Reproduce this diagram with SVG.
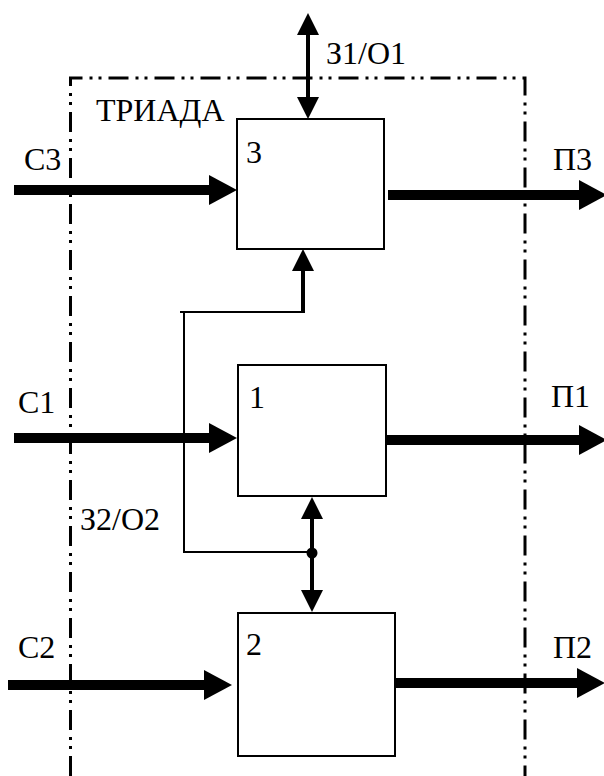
<svg xmlns="http://www.w3.org/2000/svg" width="604" height="776" viewBox="0 0 604 776">
  <style>
    .lbl { font-family: "Liberation Serif", "Times New Roman", serif; font-size: 32px; fill: #000; }
    .box { fill: #fff; stroke: #000; stroke-width: 2; }
    .frame { fill: none; stroke: #000; stroke-width: 3; stroke-dasharray: 20 7 3 6 3 7; }
    .flow { fill: none; stroke: #000; stroke-width: 10; marker-end: url(#bigHead); }
    .link { fill: none; stroke: #000; stroke-width: 4; }
    .thin { fill: none; stroke: #000; stroke-width: 2; }
  </style>
  <defs>
    <marker id="bigHead" markerUnits="userSpaceOnUse" viewBox="0 0 28 30" markerWidth="28" markerHeight="30" refX="1" refY="15" orient="auto">
      <path d="M0,0 L28,15 L0,30 Z" fill="#000"/>
    </marker>
    <marker id="smallHead" markerUnits="userSpaceOnUse" viewBox="0 0 22 22" markerWidth="22" markerHeight="22" refX="1" refY="11" orient="auto-start-reverse">
      <path d="M0,0 L22,11 L0,22 Z" fill="#000"/>
    </marker>
  </defs>

  <!-- triad boundary (dash-dot-dot) -->
  <path class="frame" d="M70.5,776 V78 H525 V776"/>
  <text class="lbl" x="96" y="121">ТРИАДА</text>

  <!-- nodes -->
  <g id="node3">
    <rect class="box" x="237" y="119" width="147" height="130"/>
    <text class="lbl" x="246" y="163">3</text>
  </g>
  <g id="node1">
    <rect class="box" x="238" y="365" width="148" height="131"/>
    <text class="lbl" x="249" y="408">1</text>
  </g>
  <g id="node2">
    <rect class="box" x="238" y="613" width="157" height="143"/>
    <text class="lbl" x="246" y="655">2</text>
  </g>

  <!-- connectors -->
  <g id="connectors">
    <!-- inputs -->
    <line class="flow" x1="14" y1="190" x2="210" y2="190"/>
    <line class="flow" x1="14" y1="438" x2="210" y2="438"/>
    <line class="flow" x1="8" y1="685" x2="205" y2="685"/>
    <!-- outputs -->
    <line class="flow" x1="388" y1="195" x2="580" y2="195"/>
    <line class="flow" x1="387" y1="440" x2="580" y2="440"/>
    <line class="flow" x1="395" y1="683" x2="578" y2="683"/>
    <!-- request/response of node 3 -->
    <line class="link" x1="308" y1="34" x2="308" y2="98" marker-start="url(#smallHead)" marker-end="url(#smallHead)"/>
    <!-- shared bus between nodes 1, 2 and 3 -->
    <line class="link" x1="303" y1="313" x2="303" y2="270" marker-end="url(#smallHead)"/>
    <line class="thin" x1="180" y1="312" x2="305" y2="312"/>
    <polyline class="thin" points="184,312 184,552 312,552"/>
    <line class="link" x1="312" y1="518" x2="312" y2="591" marker-start="url(#smallHead)" marker-end="url(#smallHead)"/>
    <circle cx="312" cy="553" r="5.5" fill="#000"/>
  </g>

  <!-- labels -->
  <text class="lbl" x="326" y="64">З1/О1</text>
  <text class="lbl" x="80" y="530">З2/О2</text>
  <text class="lbl" x="24" y="170">С3</text>
  <text class="lbl" x="18" y="413">С1</text>
  <text class="lbl" x="18" y="658">С2</text>
  <text class="lbl" x="553" y="170">П3</text>
  <text class="lbl" x="551" y="407">П1</text>
  <text class="lbl" x="553" y="658">П2</text>
</svg>
